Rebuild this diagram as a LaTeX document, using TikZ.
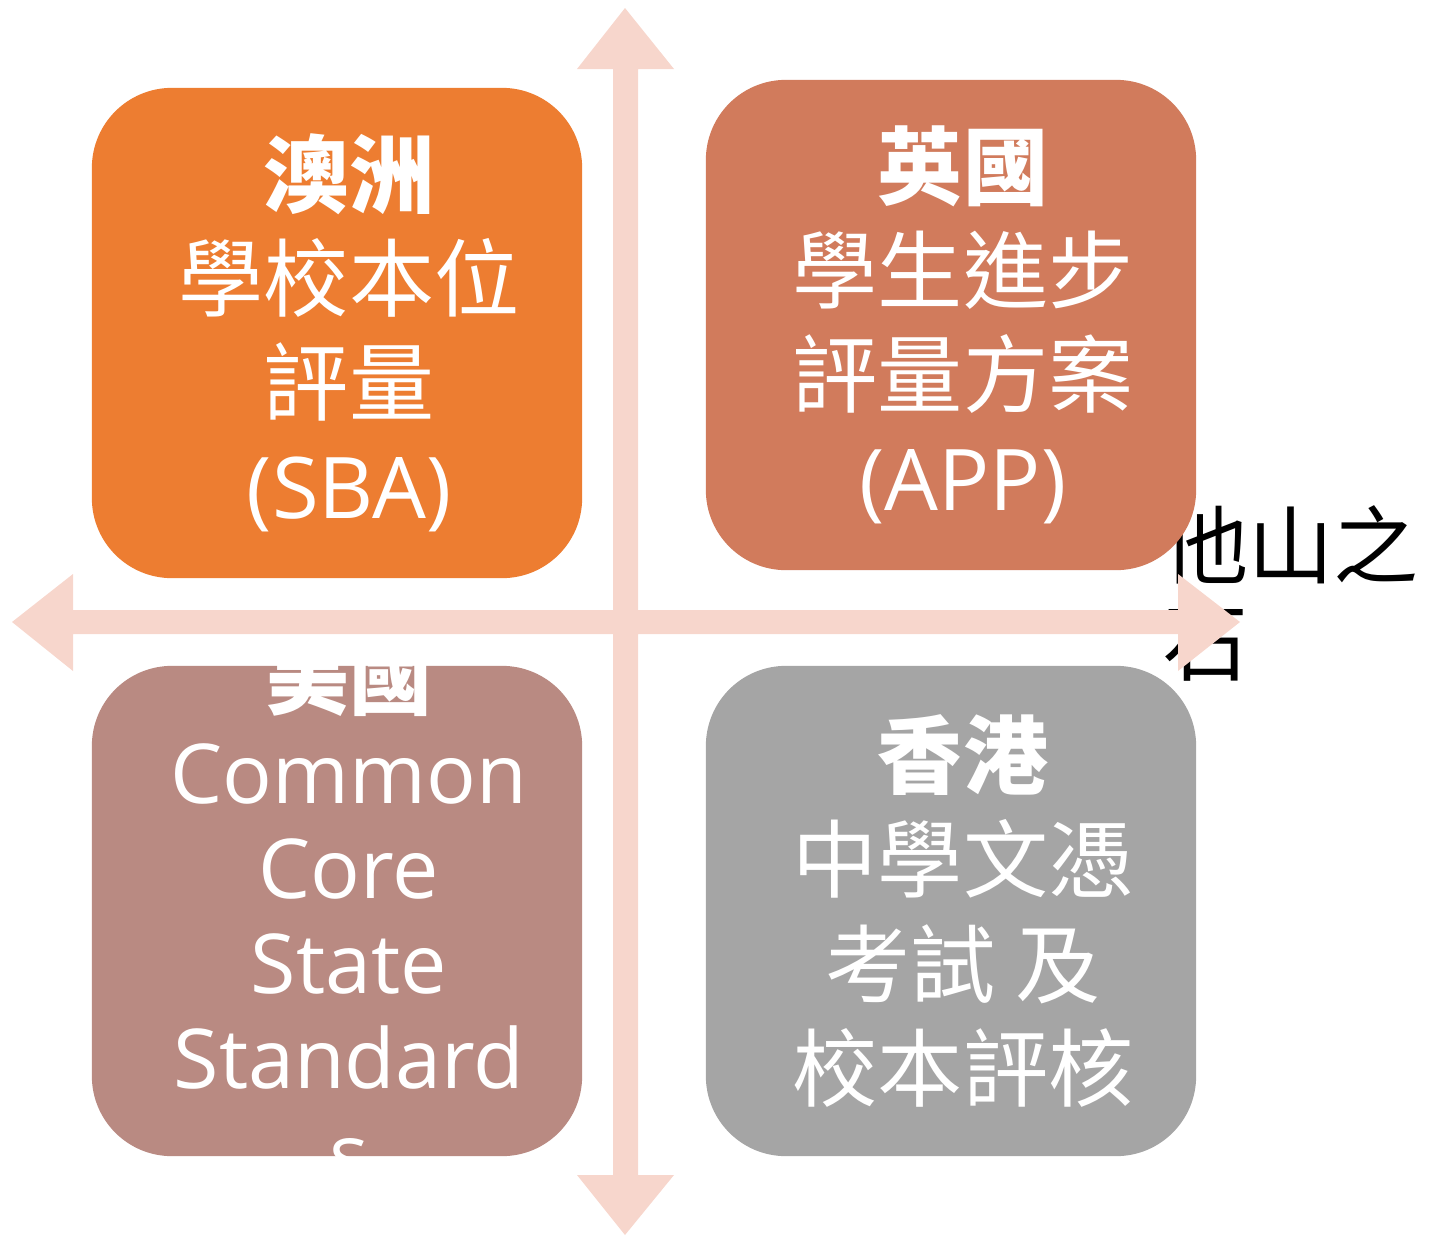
\documentclass[tikz,border=0pt]{standalone}
\usepackage{fontspec}
\setmainfont{Open Sans}
\newfontfamily\cjk{Noto Sans CJK TC}
\begin{document}
\begin{tikzpicture}[x=0.01cm,y=-0.01cm]
    \definecolor{crosspink}{RGB}{247,214,204};
    \definecolor{ausorange}{RGB}{237,125,49};
    \definecolor{ukbrown}{RGB}{209,123,92};
    \definecolor{usmauve}{RGB}{185,138,130};
    \definecolor{hkgray}{RGB}{165,165,165};
\useasboundingbox (0,0) rectangle (1433,1236);
 \tikzstyle{quad}=[draw=none,rounded corners=0.8cm,minimum width=4.9cm,minimum height=4.9cm,inner sep=0pt]
 \tikzstyle{quadtext}=[text=white,align=center,inner sep=0pt,xshift=0.12cm,font=\cjk\fontsize{24.2}{29.6}\selectfont]
% caption, sits behind the cross and the boxes
\node [anchor=north west,inner sep=0pt,align=left,font=\cjk\fontsize{24.2}{27.5}\selectfont] (title) at (1163,505) {他山之\\石};
% the cross
\fill [crosspink] (613,69) -- (577,69) -- (625,8) -- (674,69) -- (638,69) -- (638,610)
   -- (1178,610) -- (1178,574) -- (1240,622) -- (1178,671) -- (1178,634) -- (638,634)
   -- (638,1175) -- (674,1175) -- (625,1235) -- (577,1175) -- (613,1175) -- (613,634)
   -- (73,634) -- (73,671) -- (12,622) -- (73,574) -- (73,610) -- (613,610) -- cycle;
\node [quad,fill=ausorange] (aus) at (337,333) {};
\node [quad,fill=ukbrown] (uk) at (951,325) {};
\node [quad,fill=usmauve] (us) at (337,911) {};
\node [quad,fill=hkgray] (hk) at (951,911) {};
\node [quadtext] (austext) at (aus) {{\bfseries 澳洲}\\學校本位\\評量\\{\rmfamily (SBA)}};
\node [quadtext] (uktext) at (uk) {{\bfseries 英國}\\學生進步\\評量方案\\{\rmfamily (APP)}};
\node [quadtext] (hktext) at (hk) {{\bfseries 香港}\\中學文憑\\考試 及\\校本評核};
\begin{scope}
\clip (us.south west) rectangle (us.north east);
\node [quadtext,font=\rmfamily\fontsize{23.5}{27}\selectfont] (ustext) at (us) {{\cjk\bfseries 美國}\\Common\\Core\\State\\Standard\\s};
\end{scope}
\end{tikzpicture}
\end{document}
